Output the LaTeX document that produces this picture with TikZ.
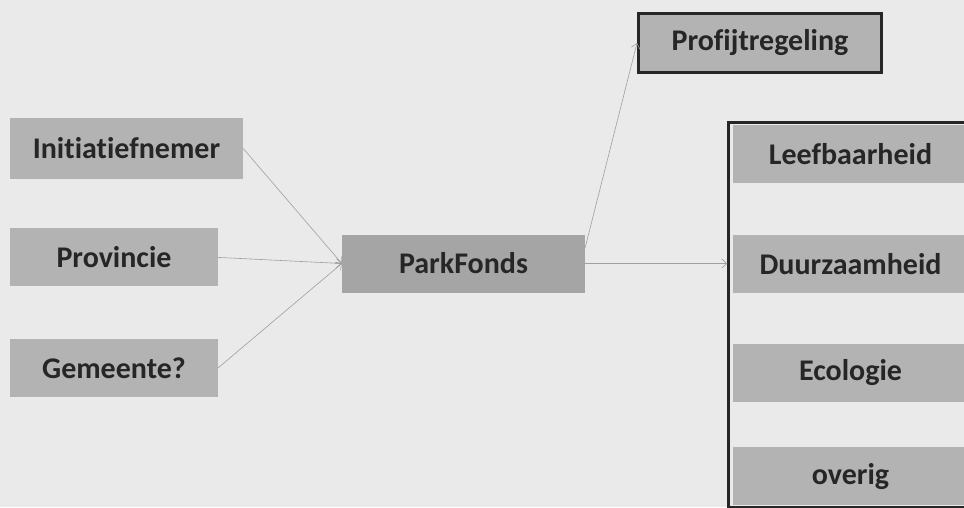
\documentclass[tikz,border=0pt]{standalone}
\usepackage{fontspec}
\setmainfont{Carlito}[Ligatures=NoCommon]
\usepackage{tikz}
\usetikzlibrary{positioning,arrows.meta,fit,calc}
\definecolor{paper}{HTML}{EAEAEA}
\definecolor{boxgray}{HTML}{B3B3B3}
\definecolor{inkgray}{HTML}{262626}
\tikzset{
     block/.style={rectangle, fill=boxgray, text=inkgray, inner sep=0pt,
                   font=\fontsize{30}{33}\selectfont\bfseries, minimum height=58pt},
     arrow/.style={draw=gray!75, line width=0.6pt, -{Straight Barb[length=5pt,width=9pt]}}
     }

\begin{document}
\begin{tikzpicture}[x=1pt,y=1pt]
\tikzstyle{blockB} = [block, draw=black!85, line width=3pt]
\tikzstyle{item} = [block, minimum width=235pt]

\fill[paper] (0,0) rectangle (964,507);
\useasboundingbox (0,0) rectangle (964,507);
\clip (0,0) rectangle (964,507);

\node [block, minimum width=233pt, minimum height=61pt] (I) at (126.5,358.5) {Initiatiefnemer};
\node [block, minimum width=208pt, below=49pt of I.south west, anchor=north west] (P) {Provincie};
\node [block, minimum width=208pt, below=52pt of P] (G) {Gemeente?};

\node [block, minimum width=243pt, fill=boxgray!92!black] (F) at (463.5,243.5) {ParkFonds};
\node [blockB, minimum width=243pt, minimum height=59pt] (R) at (760,464) {Profijtregeling};

\node [item] (L) at (850.5,353) {Leefbaarheid};
\node [item, below=52pt of L] (D) {Duurzaamheid};
\node [item, below=50pt of D] (E) {Ecologie};
\node [item, below=45pt of E] (O) {overig};
\node[draw=black!85, line width=3pt, inner xsep=4pt, inner ysep=2pt,
fit=(L)(D)(E)(O)](B){}; % frame round the four themes

%Lines
\draw[arrow] (I.east) -- (F.west);
\draw[arrow] (P.east) -- (F.west);
\draw[arrow] (G.east) -- (F.west);

\draw[arrow] ([yshift=16pt]F.east) -- (R.west);
\draw[arrow] (F.east) -- (F.east -| B.west);
\end{tikzpicture}
\end{document}
